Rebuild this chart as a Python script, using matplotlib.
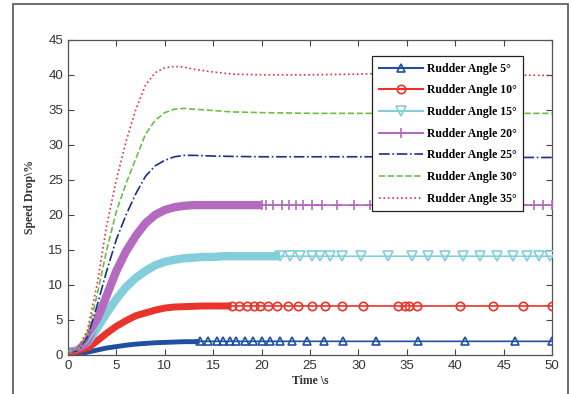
import numpy as np
import matplotlib.pyplot as plt
from matplotlib.patches import Rectangle

# time axis (s) for the smooth rise part
t_band = [0, 1, 2, 3, 4, 5, 6, 7, 8, 9, 10, 11, 12, 13, 14, 15, 16, 17, 18, 19, 20, 21]
t_full = [0, 1, 2, 3, 4, 5, 6, 7, 8, 9, 10, 11, 12, 13, 14, 15, 17, 20, 25, 30, 35, 40, 45, 50]

labels = ['Rudder Angle 5°', 'Rudder Angle 10°', 'Rudder Angle 15°', 'Rudder Angle 20°',
          'Rudder Angle 25°', 'Rudder Angle 30°', 'Rudder Angle 35°']

# marker series: rise values on t_band, plateau value and marker times in the tail
rise_5 = [0.0, 0.1, 0.4, 0.7, 1.0, 1.2, 1.4, 1.55, 1.65, 1.75, 1.8, 1.85, 1.9, 1.9]
plateau_5 = 1.95
tail_5 = [13.6, 14.5, 15.4, 16.0, 16.7, 17.4, 18.3, 19.1, 20.0, 20.9, 21.9, 23.1, 24.7,
          26.4, 28.4, 31.8, 36.1, 41.0, 46.2, 50.0]

rise_10 = [0.0, 0.2, 0.9, 2.0, 3.1, 4.1, 4.9, 5.6, 6.0, 6.4, 6.7, 6.85, 6.9, 6.95, 7.0, 7.0, 7.0]
plateau_10 = 7.0
tail_10 = [16.9, 17.7, 18.5, 19.2, 19.8, 20.7, 21.6, 22.7, 23.8, 25.2, 26.5, 28.3, 30.5,
           34.1, 34.8, 35.2, 36.0, 40.5, 43.9, 47.0, 50.0]

rise_15 = [0.5, 0.7, 1.8, 3.8, 6.0, 8.0, 9.7, 11.0, 12.0, 12.8, 13.3, 13.6, 13.8, 13.9, 14.0,
           14.0, 14.1, 14.1, 14.1, 14.1, 14.1, 14.1]
plateau_15 = 14.1
tail_15 = [21.9, 22.9, 24.0, 25.2, 26.0, 27.1, 28.3, 30.3, 33.1, 35.5, 37.2, 38.9, 40.8,
           42.6, 44.3, 46.0, 47.4, 48.6, 49.8]

rise_20 = [0.3, 0.5, 2.0, 5.0, 8.5, 12.0, 14.8, 17.0, 18.8, 20.0, 20.7, 21.1, 21.3, 21.4,
           21.4, 21.4, 21.4, 21.4, 21.4, 21.4]
plateau_20 = 21.4
tail_20 = [20.0, 20.5, 21.2, 22.1, 22.8, 23.6, 24.3, 25.2, 26.2, 27.8, 29.5, 31.2, 33.0,
           35.0, 37.0, 39.0, 41.0, 43.0, 45.0, 47.0, 48.1, 49.1, 50.0]

# line-only series on t_full
v_25 = [0.3, 0.6, 2.5, 7.0, 12.0, 16.5, 20.0, 23.0, 25.5, 27.0, 27.8, 28.3, 28.5, 28.5,
        28.45, 28.4, 28.35, 28.3, 28.3, 28.3, 28.3, 28.25, 28.2, 28.2]
v_30 = [0.3, 0.7, 3.0, 8.5, 15.0, 20.5, 24.5, 28.0, 31.5, 33.5, 34.6, 35.1, 35.2, 35.1,
        35.0, 34.9, 34.7, 34.6, 34.5, 34.5, 34.5, 34.5, 34.5, 34.5]
v_35 = [0.3, 0.8, 3.5, 10.0, 18.5, 25.0, 30.5, 35.0, 38.5, 40.3, 41.0, 41.2, 41.1, 40.8,
        40.6, 40.4, 40.1, 40.0, 40.0, 40.1, 40.3, 40.1, 40.0, 39.9]

col_5, col_10, col_15, col_20 = '#1f4f9e', '#e8342b', '#84cddb', '#b46bbf'
col_25, col_30, col_35 = '#1c2f86', '#6cbf45', '#e4323d'

fig = plt.figure(figsize=(5.71, 3.94), dpi=100)
ax = fig.add_axes([0.119, 0.099, 0.848, 0.8])

marker_series = [
    (rise_5, plateau_5, tail_5, col_5, '^', 6, 3.5),
    (rise_10, plateau_10, tail_10, col_10, 'o', 6, 5.0),
    (rise_15, plateau_15, tail_15, col_15, 'v', 7, 6.0),
    (rise_20, plateau_20, tail_20, col_20, '+', 7, 6.0),
]
for k, (rise, plat, tail, col, mk, ms, bw) in enumerate(marker_series):
    tb = t_band[:len(rise)]
    t = tb + tail
    v = rise + [plat] * len(tail)
    # dense marker band of the solver output in the rise part
    ax.plot(tb + tail[:1], rise + [plat], color=col, lw=bw, solid_capstyle='butt', zorder=2)
    ax.plot(t, v, color=col, lw=1.2, marker=mk, ms=ms, mfc='none', mew=1.2,
            markevery=list(range(len(tb), len(t))), zorder=3)
    ax.plot([], [], color=col, lw=1.5, marker=mk, ms=ms, mfc='none', mew=1.2, label=labels[k])

ax.plot(t_full, v_25, color=col_25, lw=1.2, linestyle='-.', label=labels[4], zorder=3)
ax.plot(t_full, v_30, color=col_30, lw=1.2, linestyle='--', label=labels[5], zorder=3)
ax.plot(t_full, v_35, color=col_35, lw=1.2, linestyle=':', label=labels[6], zorder=3)

ax.set_xlim(0, 50)
ax.set_ylim(0, 45)
ax.set_xticks(range(0, 51, 5))
ax.set_yticks(range(0, 46, 5))
ax.tick_params(direction='in', top=True, right=True, length=4, width=0.8,
               labelsize=9.5, colors='#444444', labelcolor='#333333')
for lab in ax.get_xticklabels() + ax.get_yticklabels():
    lab.set_family('Liberation Sans')
for s in ax.spines.values():
    s.set_color('#555555')
    s.set_linewidth(0.9)

ax.set_xlabel('Time \\s', fontsize=8.5, fontweight='bold', family='Liberation Serif',
              color='#333333', labelpad=2)
ax.set_ylabel('Speed Drop\\%', fontsize=8.5, fontweight='bold', family='Liberation Serif',
              color='#333333', labelpad=9)

leg = ax.legend(loc='upper left', bbox_to_anchor=(0.628, 0.948), fancybox=False,
                edgecolor='#222222', framealpha=1, borderaxespad=0,
                prop={'family': 'Liberation Serif', 'weight': 'bold', 'size': 8.5},
                labelspacing=0.82, handlelength=3.8, handletextpad=0.3, borderpad=0.55)
leg.get_frame().set_linewidth(0.9)
leg.set_zorder(5)

# outer frame of the figure
fig.patches.append(Rectangle((13 / 571, -0.01), 555 / 571, 1 - 4 / 394 + 0.01,
                             transform=fig.transFigure, fill=False,
                             edgecolor='#555555', lw=1.2))

fig.savefig('out.png', dpi=100)
